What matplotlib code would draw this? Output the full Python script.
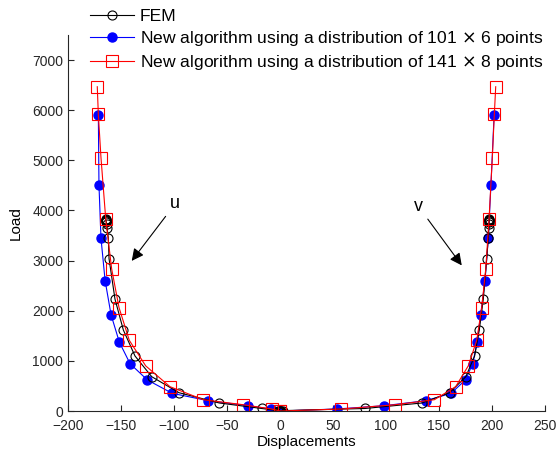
import numpy as np
import matplotlib.pyplot as plt

plt.rcParams['font.family'] = ['Liberation Sans', 'DejaVu Sans']

# FEM reference solution
fem_load = [0, 3, 8, 50, 160, 365, 684, 1097, 1615, 2232, 3038, 3456, 3644, 3740,
            3770, 3790, 3800, 3810, 3818, 3825]
fem_u = [0, -1, -2, -17.3, -57.3, -95.3, -121, -136.8, -147.8, -155.7, -161.3, -162, -163.1, -163.6,
         -163.9, -164.1, -164.3, -164.4, -164.5, -164.5]
fem_v = [0, 1, 3, 80, 134, 160, 175.3, 183.6, 188, 191.8, 195, 196.5, 197, 197.2,
         197.3, 197.4, 197.5, 197.5, 197.6, 197.6]

# new algorithm, 101 x 6 points
a_load = [0, 40, 105, 205, 352, 620, 945, 1375, 1920, 2600, 3445, 4507, 5903]
a_u = [0, -8.5, -30, -67.6, -101.6, -125.2, -141.5, -151.6, -159.4, -165, -168.9, -170.8, -171.4]
a_v = [0, 53.5, 98, 137.4, 161.3, 175, 181.8, 186, 189.3, 193.4, 196.5, 199, 202]

# new algorithm, 141 x 8 points
b_load = [0, 40, 125, 225, 485, 900, 1410, 2064, 2832, 3823, 5052, 5917, 6468]
b_u = [0, -7.9, -34.6, -72.3, -103.8, -126.7, -142.2, -151.9, -158.8, -164.4, -168.9, -171.4, -172.4]
b_v = [0, 58, 108.5, 145.6, 165.7, 177.6, 185.6, 190.3, 194.1, 197.2, 200.3, 202.2, 203.5]

fig = plt.figure(figsize=(5.58, 4.54), dpi=100)
ax = fig.add_axes([0.1219, 0.0947, 0.8548, 0.8282])

fem_style = dict(color='k', lw=0.8, marker='o', ms=6.5, mfc='none', mec='k', mew=0.8)
a_style = dict(color='#0000ff', lw=0.8, marker='o', ms=6.5, mfc='#0000ff', mec='#0000ff')
b_style = dict(color='#ff0000', lw=0.8, marker='s', ms=9, mfc='none', mec='#ff0000', mew=0.8)

h2, = ax.plot(a_u, a_load, label='New algorithm using a distribution of 101 $\\times$ 6 points', **a_style)
ax.plot(a_v, a_load, **a_style)
h1, = ax.plot(fem_u, fem_load, label='FEM', **fem_style)
ax.plot(fem_v, fem_load, **fem_style)
h3, = ax.plot(b_u, b_load, label='New algorithm using a distribution of 141 $\\times$ 8 points', **b_style)
ax.plot(b_v, b_load, **b_style)

ax.annotate('u', xy=(-141.5, 2950), xytext=(-99, 4130), fontsize=13,
            arrowprops=dict(arrowstyle='-|>', color='k', lw=0.8, mutation_scale=18),
            ha='center', va='center')
ax.annotate('v', xy=(173, 2860), xytext=(131, 4070), fontsize=13,
            arrowprops=dict(arrowstyle='-|>', color='k', lw=0.8, mutation_scale=18),
            ha='center', va='center')

ax.set_xlim(-200, 250)
ax.set_ylim(0, 7500)
ax.set_xticks(np.arange(-200, 251, 50))
ax.set_yticks(np.arange(0, 7001, 1000))
ax.tick_params(direction='in', labelsize=10, colors='#262626', length=4)
ax.tick_params(axis='x', pad=6)
for s in ['top', 'right']:
    ax.spines[s].set_visible(False)
for s in ['left', 'bottom']:
    ax.spines[s].set_color('#262626')
    ax.spines[s].set_linewidth(0.8)
ax.set_xlabel('Displacements', fontsize=11, labelpad=1)
ax.set_ylabel('Load', fontsize=11, labelpad=7)

fig.legend(handles=[h1, h2, h3], loc='upper left', bbox_to_anchor=(0.145, 1.0),
           frameon=False, fontsize=12.6, handlelength=2.55, handletextpad=0.3,
           labelspacing=0.3, borderaxespad=0.1)

fig.savefig('out.png', dpi=100)
